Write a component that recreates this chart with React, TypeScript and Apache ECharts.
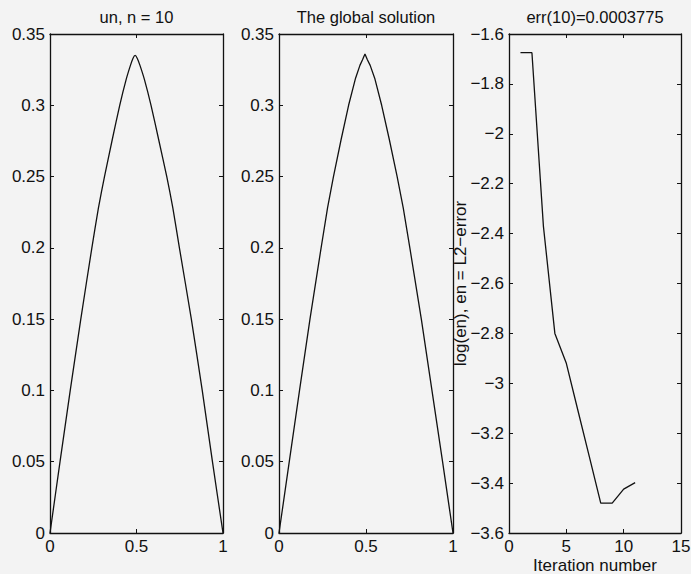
import React, { useEffect, useRef } from "react";
import * as echarts from "echarts";

// Panel 1: "un, n = 10"
const unX = [0, 0.058, 0.117, 0.178, 0.242, 0.28, 0.315, 0.36, 0.403, 0.44, 0.465, 0.48, 0.492, 0.504, 0.52, 0.546, 0.584, 0.628, 0.675, 0.71, 0.748, 0.817, 0.88, 0.939, 1];
const unY = [0, 0.05, 0.1, 0.15, 0.2, 0.228, 0.25, 0.276, 0.3, 0.318, 0.328, 0.333, 0.335, 0.333, 0.328, 0.318, 0.3, 0.276, 0.25, 0.228, 0.2, 0.15, 0.1, 0.05, 0];

// Panel 2: "The global solution"
const globX = [0, 0.059, 0.118, 0.178, 0.242, 0.279, 0.313, 0.357, 0.4, 0.44, 0.465, 0.48, 0.494, 0.508, 0.524, 0.55, 0.59, 0.634, 0.679, 0.714, 0.752, 0.818, 0.879, 0.94, 1];
const globY = [0, 0.05, 0.1, 0.15, 0.2, 0.228, 0.25, 0.276, 0.3, 0.319, 0.328, 0.332, 0.336, 0.332, 0.328, 0.319, 0.3, 0.276, 0.25, 0.228, 0.2, 0.15, 0.1, 0.05, 0];

// Panel 3: log error per iteration
const iterations = [1, 2, 3, 4, 5, 6, 7, 8, 9, 10, 11];
const logErr = [-1.675, -1.675, -2.37, -2.8, -2.92, -3.107, -3.293, -3.48, -3.48, -3.424, -3.398];

const titles = ["un, n = 10", "The global solution", "err(10)=0.0003775"];
const yLabelName = "log(en), en = L2\u2212error";
const xLabelName = "Iteration number";

const FONT = "Liberation Sans";
const INK = "#111111";
const BG = "#f3f3f3";
const FS = 17;

const grids = [
  { left: 50, top: 34, width: 173, height: 499, outerBoundsMode: "none", containLabel: false },
  { left: 279, top: 34, width: 174, height: 499, outerBoundsMode: "none", containLabel: false },
  { left: 509, top: 34, width: 172, height: 499, outerBoundsMode: "none", containLabel: false },
];

const minus = (v: number) => String(v).replace("-", "\u2212");

function axisPair(gridIndex: number, min: number, max: number, interval: number, dim: "x" | "y", extra: any = {}) {
  const common = {
    gridIndex,
    type: "value",
    min,
    max,
    interval,
    axisLine: { show: true, onZero: false, lineStyle: { color: INK, width: 1.3 } },
    axisTick: { show: true, inside: true, length: 4, lineStyle: { color: INK, width: 1 } },
    splitLine: { show: false },
  };
  const main = {
    ...common,
    position: dim === "x" ? "bottom" : "left",
    axisLabel: {
      show: true,
      color: INK,
      fontFamily: FONT,
      fontSize: FS,
      lineHeight: 16,
      margin: dim === "x" ? 5 : 5,
      showMinLabel: true,
      showMaxLabel: true,
      hideOverlap: false,
      formatter: (v: number) => minus(v),
    },
    ...extra,
  };
  const mirror = {
    ...common,
    position: dim === "x" ? "top" : "right",
    axisLabel: { show: false },
  };
  return [main, mirror];
}

export default function App() {
  const ref = useRef<HTMLDivElement>(null);
  useEffect(() => {
    document.body.style.margin = "0";
    document.body.style.background = BG;
    if (!ref.current) return;
    const chart = echarts.init(ref.current, undefined, { renderer: "svg" });

    const xAxes = [
      ...axisPair(0, 0, 1, 0.5, "x"),
      ...axisPair(1, 0, 1, 0.5, "x"),
      ...axisPair(2, 0, 15, 5, "x", {
        name: xLabelName,
        nameLocation: "middle",
        nameGap: 24.5,
        nameMoveOverlap: false,
        nameTextStyle: { color: INK, fontFamily: FONT, fontSize: FS, lineHeight: 16 },
      }),
    ];
    const yAxes = [
      ...axisPair(0, 0, 0.35, 0.05, "y"),
      ...axisPair(1, 0, 0.35, 0.05, "y"),
      ...axisPair(2, -3.6, -1.6, 0.2, "y", {
        name: yLabelName,
        nameLocation: "middle",
        nameGap: 40,
        nameRotate: 90,
        nameMoveOverlap: false,
        nameTextStyle: { color: INK, fontFamily: FONT, fontSize: FS },
      }),
    ];

    const lineStyle = { color: INK, width: 1.3 };
    const mk = (i: number, xs: number[], ys: number[], smooth: number | boolean) => ({
      type: "line",
      xAxisIndex: i * 2,
      yAxisIndex: i * 2,
      data: xs.map((x, k) => [x, ys[k]]),
      showSymbol: false,
      symbol: "none",
      smooth,
      lineStyle,
      itemStyle: { color: INK },
    });

    chart.setOption({
      animation: false,
      backgroundColor: BG,
      grid: grids,
      xAxis: xAxes,
      yAxis: yAxes,
      series: [mk(0, unX, unY, 0.2), mk(1, globX, globY, false), mk(2, iterations, logErr, false)],
      graphic: titles.map((t, i) => ({
        type: "text",
        x: grids[i].left + grids[i].width / 2,
        y: 8,
        style: {
          text: t,
          fill: INK,
          font: `16.5px "${FONT}"`,
          textAlign: "center",
          textVerticalAlign: "top",
        },
      })),
    });
    return () => chart.dispose();
  }, []);
  return <div ref={ref} style={{ width: 691, height: 574, background: BG }} />;
}
